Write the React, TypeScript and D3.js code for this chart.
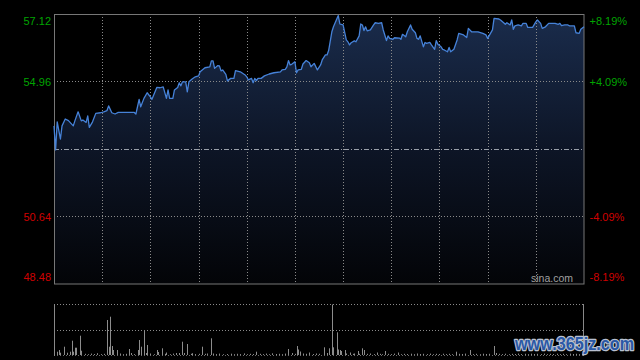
import React from "react";
import * as d3 from "d3";

// ---- data ----
const priceTicks = [57.12, 54.96, 52.8, 50.64, 48.48];
const leftLabels = ["57.12", "54.96", "", "50.64", "48.48"];
const rightLabels = ["+8.19%", "+4.09%", "", "-4.09%", "-8.19%"];
const prevClose = 52.8;
const gridMinutes = [30, 60, 90, 120, 150, 180, 210, 240, 270, 300];

const minutes = [
  0, 1, 2, 4, 5, 7, 9, 12, 13, 15, 17, 18, 20, 21, 22, 24, 26, 29, 31, 33, 34, 36, 38, 40, 50, 51, 53, 54, 56, 58,
  60, 61, 64, 66, 68, 70, 71, 72, 74, 75, 77, 78, 79, 80, 82, 83, 84, 86, 88, 90, 91, 94, 97, 98, 99, 100, 102, 103, 104, 105,
  107, 108, 110, 112, 113, 116, 119, 120, 121, 123, 124, 125, 126, 127, 129, 131, 134, 137, 141, 142, 144, 145, 146, 147, 148, 150, 151, 152, 154, 155,
  157, 159, 160, 162, 164, 166, 167, 169, 170, 171, 173, 174, 176, 177, 178, 180, 182, 183, 184, 185, 187, 188, 190, 191, 192, 193, 194, 195, 197, 199,
  200, 202, 204, 205, 207, 208, 209, 211, 212, 215, 216, 217, 219, 220, 222, 223, 225, 226, 227, 228, 230, 231, 232, 234, 235, 237, 238, 239, 241, 242,
  243, 245, 246, 247, 249, 251, 252, 255, 257, 258, 260, 264, 267, 269, 270, 273, 274, 277, 278, 280, 281, 282, 284, 285, 286, 287, 289, 291, 292, 294,
  295, 298, 300, 301, 303, 304, 306, 308, 312, 314, 315, 316, 318, 320, 321, 324, 325, 327, 328, 330,
];
const prices = [
  53.54, 52.77, 53.67, 53.12, 53.54, 53.76, 53.71, 53.54, 53.7, 53.99, 53.7, 53.73, 53.65, 53.86, 53.49, 53.67, 53.94, 53.96, 53.99, 54.03, 54.18, 53.96, 53.92, 53.97, 53.97, 53.92, 54.39, 54.15, 54.42, 54.6,
  54.47, 54.39, 54.77, 54.76, 54.79, 54.42, 54.69, 54.42, 54.42, 54.69, 54.77, 54.92, 54.82, 54.95, 54.95, 54.63, 54.95, 55.04, 55.11, 55.14, 55.27, 55.4, 55.43, 55.62, 55.62, 55.38, 55.47, 55.46, 55.3, 55.33,
  55.19, 54.98, 55.06, 55.06, 55.31, 55.27, 55.17, 55.11, 55.01, 55.06, 54.92, 55.06, 54.99, 55.06, 55.06, 55.14, 55.2, 55.24, 55.27, 55.33, 55.35, 55.43, 55.63, 55.49, 55.51, 55.59, 55.24, 55.33, 55.35, 55.52,
  55.63, 55.56, 55.43, 55.54, 55.33, 55.49, 55.65, 55.81, 55.81, 55.95, 56.55, 56.71, 56.95, 57.07, 56.8, 56.77, 56.29, 56.23, 56.13, 56.2, 56.26, 56.23, 56.42, 56.8, 56.77, 56.59, 56.71, 56.58, 56.61, 56.77,
  56.84, 56.82, 56.84, 56.61, 56.27, 56.42, 56.34, 56.31, 56.36, 56.35, 56.31, 56.47, 56.39, 56.55, 56.77, 56.63, 56.52, 56.34, 56.31, 56.42, 56.07, 56.21, 56.18, 56.21, 56.13, 55.99, 56.27, 56.15, 56.07, 55.99,
  55.97, 55.91, 56.05, 55.91, 55.99, 56.29, 56.5, 56.45, 56.37, 56.66, 56.55, 56.55, 56.5, 56.45, 56.34, 56.61, 56.98, 56.96, 56.93, 56.84, 56.79, 56.84, 56.77, 56.93, 56.63, 56.74, 56.77, 56.74, 56.82, 56.82,
  56.69, 56.69, 56.87, 56.93, 56.82, 56.66, 56.71, 56.82, 56.82, 56.79, 56.82, 56.75, 56.77, 56.77, 56.74, 56.74, 56.52, 56.5, 56.63, 56.71,
];

const volMinutes = [
  0, 2, 3, 4, 6, 8, 10, 11, 12, 13, 14, 16, 17, 19, 21, 23, 25, 27, 29, 31, 33, 34, 35, 36, 37, 39, 41, 43, 45, 47,
  48, 50, 52, 53, 54, 56, 57, 58, 60, 62, 64, 65, 67, 69, 70, 72, 74, 76, 78, 80, 81, 83, 85, 86, 88, 90, 92, 94, 95, 98,
  99, 101, 103, 105, 108, 110, 112, 114, 116, 118, 120, 122, 124, 126, 128, 130, 132, 134, 136, 138, 140, 142, 144, 146, 148, 150, 151, 152, 153, 155,
  157, 159, 161, 163, 165, 168, 170, 171, 173, 174, 176, 177, 178, 179, 181, 182, 184, 186, 187, 189, 190, 192, 193, 195, 197, 199, 201, 203, 204, 206,
  208, 210, 212, 214, 216, 218, 220, 222, 224, 226, 228, 230, 232, 234, 236, 238, 240, 242, 244, 246, 248, 250, 252, 254, 256, 259, 261, 263, 265, 267,
  269, 271, 274, 275, 277, 279, 281, 283, 285, 287, 289, 291, 293, 295, 297, 299, 301, 303, 305, 307, 309, 311, 313, 315, 317, 319, 321, 323, 325, 327, 329,
];
const volValues = [
  83, 33, 50, 23, 83, 23, 33, 143, 33, 73, 73, 193, 43, 12, 8, 14, 10, 18, 9, 12, 350, 83, 383, 90, 50, 50, 15, 8, 12, 60,
  20, 9, 50, 150, 83, 250, 20, 100, 15, 8, 50, 30, 67, 12, 25, 8, 14, 20, 20, 133, 20, 110, 12, 18, 9, 12, 83, 12, 15, 167,
  15, 9, 14, 8, 10, 13, 8, 12, 9, 16, 8, 12, 10, 33, 12, 9, 14, 8, 17, 10, 12, 8, 14, 60, 20, 12, 90, 55, 35, 15,
  12, 25, 10, 15, 12, 77, 20, 67, 505, 77, 227, 55, 50, 40, 50, 15, 25, 12, 15, 40, 12, 67, 50, 12, 15, 9, 25, 12, 8, 40,
  12, 9, 14, 25, 8, 12, 10, 13, 8, 15, 10, 12, 9, 14, 8, 12, 10, 13, 9, 12, 8, 33, 12, 10, 14, 50, 9, 12, 8, 13,
  10, 12, 90, 20, 12, 9, 13, 8, 12, 10, 14, 9, 12, 8, 13, 10, 12, 9, 14, 8, 12, 10, 13, 9, 12, 8, 14, 10, 12, 9, 13,
];

const W = 640;
const H = 360;
const FONT = "'Liberation Sans', Arial, sans-serif";

export default function App() {
  const x = d3.scaleLinear().domain([0, 330]).range([54, 584]);
  const y = d3.scaleLinear().domain([48.48, 57.12]).range([284, 14]);
  const yv = d3.scaleLinear().domain([0, 510]).range([355, 304]);

  const pts: [number, number][] = minutes.map((m, i) => [m, prices[i]]);
  const line = d3
    .line<[number, number]>()
    .x((d) => x(d[0]))
    .y((d) => y(d[1]));
  const area = d3
    .area<[number, number]>()
    .x((d) => x(d[0]))
    .y0(y(48.48))
    .y1((d) => y(d[1]));

  const colorFor = (i: number) => (i < 2 ? "#00a400" : "#d00000");
  const labelY = (i: number) => {
    const v = y(priceTicks[i]);
    if (i === 0) return v + 6.5;
    if (i === priceTicks.length - 1) return v - 7;
    return v;
  };

  return (
    <svg
      width={W}
      height={H}
      style={{ position: "fixed", left: 0, top: 0, display: "block" }}
      xmlns="http://www.w3.org/2000/svg"
    >
      <defs>
        <linearGradient id="fillGrad" gradientUnits="userSpaceOnUse" x1="0" y1={y(57.12)} x2="0" y2={y(48.48)}>
          <stop offset="0" stopColor="#1a2c4c" />
          <stop offset="0.5" stopColor="#0d1526" />
          <stop offset="1" stopColor="#030407" />
        </linearGradient>
      </defs>
      <rect x={0} y={0} width={W} height={H} fill="#000" />

      {/* price area */}
      <path d={area(pts) || ""} fill="url(#fillGrad)" />

      {/* vertical grid */}
      {gridMinutes.map((m) => (
        <line
          key={"vg" + m}
          x1={Math.round(x(m)) + 0.5}
          x2={Math.round(x(m)) + 0.5}
          y1={y(57.12)}
          y2={y(48.48)}
          stroke="#8a8a8a"
          strokeWidth={1}
          strokeDasharray="1,2"
        />
      ))}
      {/* horizontal grid */}
      {priceTicks.slice(1, -1).map((p) =>
        p === prevClose ? null : (
          <line
            key={"hg" + p}
            x1={54}
            x2={584}
            y1={Math.round(y(p)) + 0.5}
            y2={Math.round(y(p)) + 0.5}
            stroke="#8a8a8a"
            strokeWidth={1}
            strokeDasharray="1,2"
          />
        )
      )}
      {/* previous close line */}
      <line
        x1={54}
        x2={584}
        y1={Math.round(y(prevClose)) + 0.5}
        y2={Math.round(y(prevClose)) + 0.5}
        stroke="#9aa0aa"
        strokeWidth={1}
        strokeDasharray="5,2,1,2"
      />

      {/* frame */}
      <rect x={54.5} y={14.5} width={529.5} height={269.5} fill="none" stroke="#777" strokeWidth={1} />

      {/* price line */}
      <path d={line(pts) || ""} fill="none" stroke="#4682d8" strokeWidth={1.3} strokeLinejoin="round" />

      {/* axis labels */}
      {priceTicks.map((p, i) =>
        leftLabels[i] ? (
          <text
            key={"ll" + i}
            x={51}
            y={labelY(i)}
            textAnchor="end"
            dominantBaseline="central"
            fontSize={11}
            fontFamily={FONT}
            fill={colorFor(i)}
          >
            {leftLabels[i]}
          </text>
        ) : null
      )}
      {priceTicks.map((p, i) =>
        rightLabels[i] ? (
          <text
            key={"rl" + i}
            x={589.5}
            y={labelY(i)}
            textAnchor="start"
            dominantBaseline="central"
            fontSize={11}
            fontFamily={FONT}
            fill={colorFor(i)}
          >
            {rightLabels[i]}
          </text>
        ) : null
      )}
      <text x={573} y={278} textAnchor="end" dominantBaseline="central" fontSize={10.5} fontFamily={FONT} fill="#a0a0a0">
        sina.com
      </text>

      {/* volume panel */}
      <line x1={54} x2={584} y1={304.5} y2={304.5} stroke="#8a8a8a" strokeDasharray="1,2" />
      <line x1={54} x2={584} y1={330.5} y2={330.5} stroke="#8a8a8a" strokeDasharray="1,2" />
      <line x1={54} x2={584} y1={355.5} y2={355.5} stroke="#6a6a6a" strokeDasharray="1,2" />
      <line x1={54.5} x2={54.5} y1={304} y2={356} stroke="#888" />
      <line x1={583.5} x2={583.5} y1={304} y2={356} stroke="#888" />
      {volMinutes.map((m, i) => (
        <rect
          key={"v" + i}
          x={Math.round(x(m))}
          y={yv(volValues[i])}
          width={1}
          height={yv(0) - yv(volValues[i])}
          fill="#8c8c8c"
        />
      ))}

      {/* watermark */}
      <g transform="translate(515,350) scale(0.9,1)">
        <text
          x={0}
          y={0}
          fontSize={18}
          fontWeight="bold"
          fontFamily={FONT}
          fill="#2a58a6"
          stroke="#b8c0d0"
          strokeWidth={2.5}
          paintOrder="stroke"
          strokeLinejoin="round"
        >
          www.365jz.com
        </text>
      </g>
    </svg>
  );
}
